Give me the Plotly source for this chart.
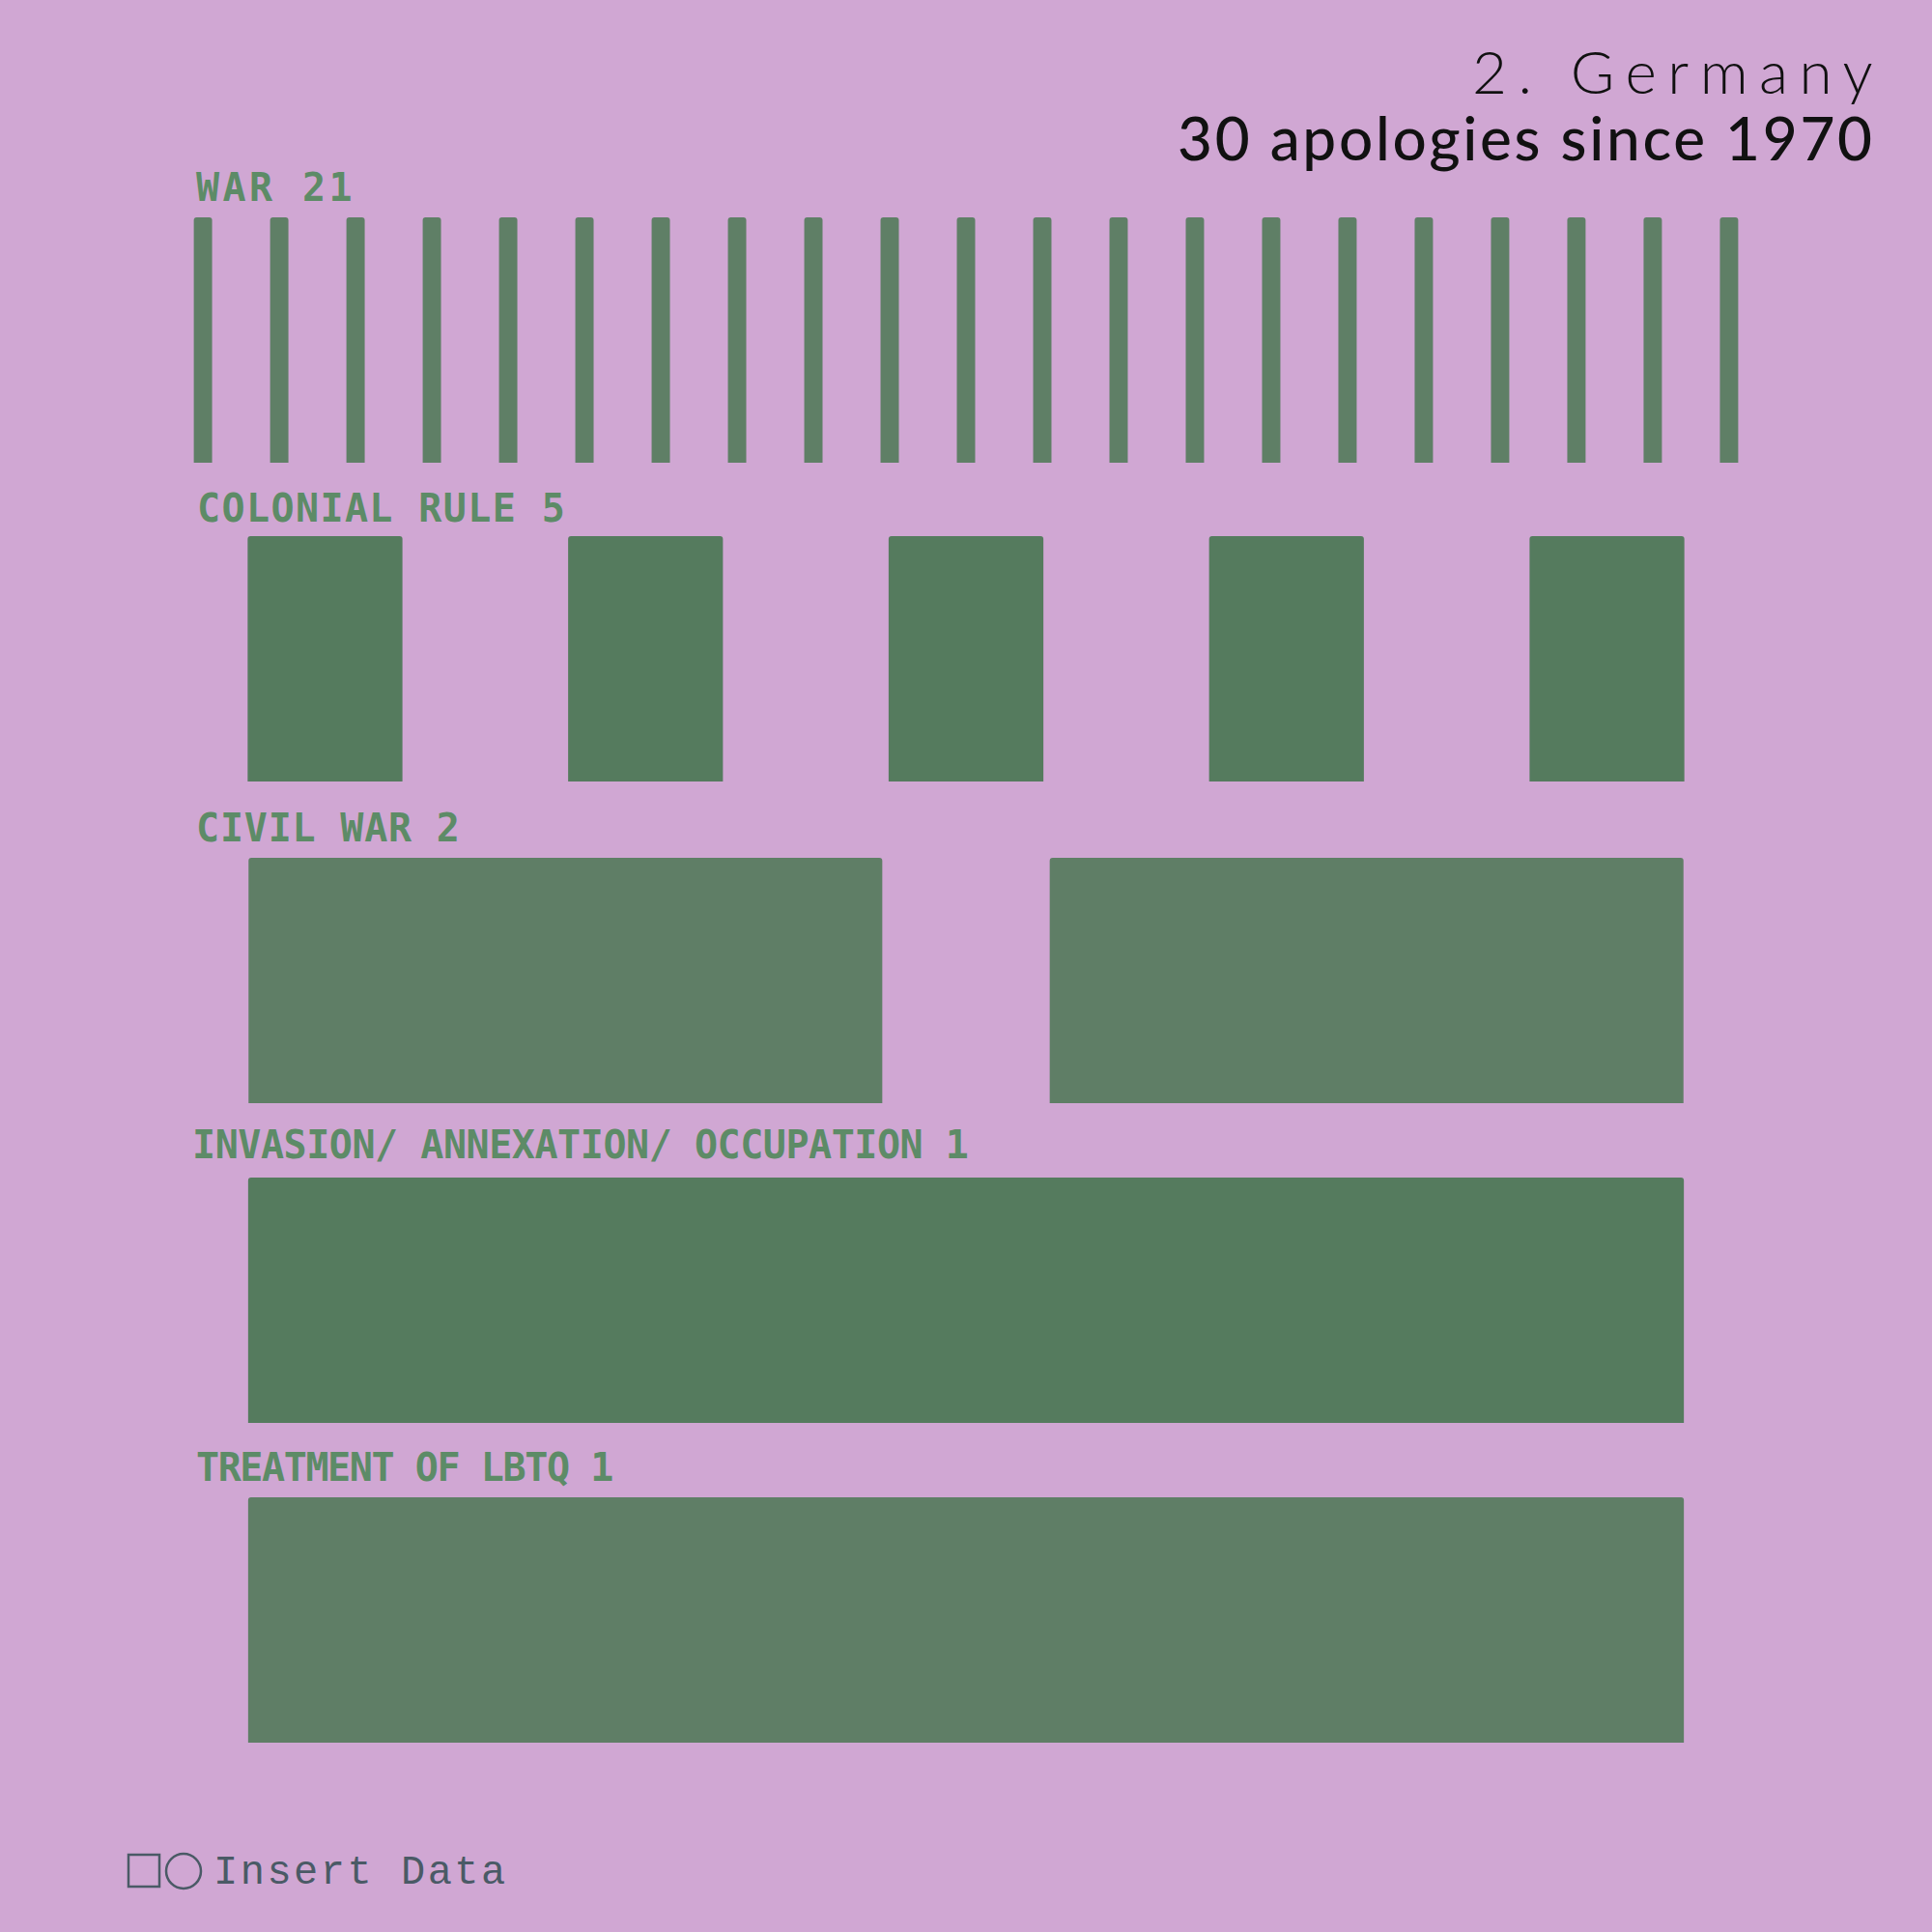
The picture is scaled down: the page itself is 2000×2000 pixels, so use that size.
import plotly.graph_objects as go

# ---- data ----
categories = ["WAR", "COLONIAL RULE", "CIVIL WAR", "INVASION/ ANNEXATION/ OCCUPATION", "TREATMENT OF LBTQ"]
counts = [21, 5, 2, 1, 1]
title_country = "2. Germany"
subtitle = "30 apologies since 1970"
footer = "Insert Data"

# ---- style ----
BG = "#d0a7d3"
LABEL_COLOR = "#5d8b67"
bar_colors = ["#5f7f66", "#557b5e", "#5f7e66", "#557b5e", "#5f7e66"]
bar_widths = [0.24, 0.483, 0.791, 0.896, 0.896]
row_tops_px = [225, 555, 888, 1219, 1550]
row_h_px = 254
label_cap_centers_px = [194, 526, 857, 1185, 1519]
label_x_px = [201, 202, 201, 197, 201]
label_spacing = [3.4, 1.4, 0.8, -0.45, -1.4]
X_DOMAIN = [0.0853, 0.9147]
H = 2000.0

fig = go.Figure()
for i, (cat, n) in enumerate(zip(categories, counts)):
    k = i + 1
    sfx = "" if k == 1 else str(k)
    fig.add_trace(go.Bar(
        x=list(range(n)), y=[1] * n, width=bar_widths[i],
        marker=dict(color=bar_colors[i], line=dict(width=0), cornerradius=3),
        xaxis="x" + sfx, yaxis="y" + sfx, showlegend=False, hoverinfo="skip",
    ))
    top = row_tops_px[i]
    fig.layout["xaxis" + sfx] = dict(domain=X_DOMAIN, range=[-0.5, n - 0.5], visible=False,
                                     anchor="y" + sfx, fixedrange=True)
    fig.layout["yaxis" + sfx] = dict(domain=[1 - (top + row_h_px) / H, 1 - top / H], range=[0, 1],
                                     visible=False, anchor="x" + sfx, fixedrange=True)
    fig.add_annotation(
        text=f'<span style="letter-spacing:{label_spacing[i]}px">{cat} {n}</span>',
        xref="paper", yref="paper",
        x=label_x_px[i] / H, y=1 - label_cap_centers_px[i] / H,
        xanchor="left", yanchor="middle", showarrow=False,
        font=dict(family="DejaVu Sans Mono", size=40, color=LABEL_COLOR, weight="bold"),
    )

# title
fig.add_annotation(
    text=f'<span style="letter-spacing:11.5px">{title_country}</span>', xref="paper", yref="paper",
    x=1952 / H, y=1 - 73 / H, xanchor="right", yanchor="middle", showarrow=False,
    font=dict(family="Lato", size=62, color="#111111", weight=300),
)
fig.add_annotation(
    text=f'<span style="letter-spacing:2.7px">{subtitle}</span>', xref="paper", yref="paper",
    x=1943 / H, y=1 - 142 / H, xanchor="right", yanchor="middle", showarrow=False,
    font=dict(family="Lato", size=62, color="#111111", weight=500),
)

# footer
FOOT = "#4a5a66"
fig.add_shape(type="rect", xref="paper", yref="paper", x0=133 / H, x1=165 / H,
              y0=1 - 1953 / H, y1=1 - 1920 / H, line=dict(color=FOOT, width=2.5))
fig.add_shape(type="circle", xref="paper", yref="paper", x0=172 / H, x1=208 / H,
              y0=1 - 1955 / H, y1=1 - 1919 / H, line=dict(color=FOOT, width=2.5))
fig.add_annotation(
    text=f'<span style="letter-spacing:2.5px">{footer}</span>', xref="paper", yref="paper",
    x=219 / H, y=1 - 1939 / H, xanchor="left", yanchor="middle", showarrow=False,
    font=dict(family="Liberation Mono", size=42, color=FOOT),
)

fig.update_layout(
    width=2000, height=2000, margin=dict(l=0, r=0, t=0, b=0),
    paper_bgcolor=BG, plot_bgcolor=BG, barmode="overlay",
)
fig.write_html("out.html")
